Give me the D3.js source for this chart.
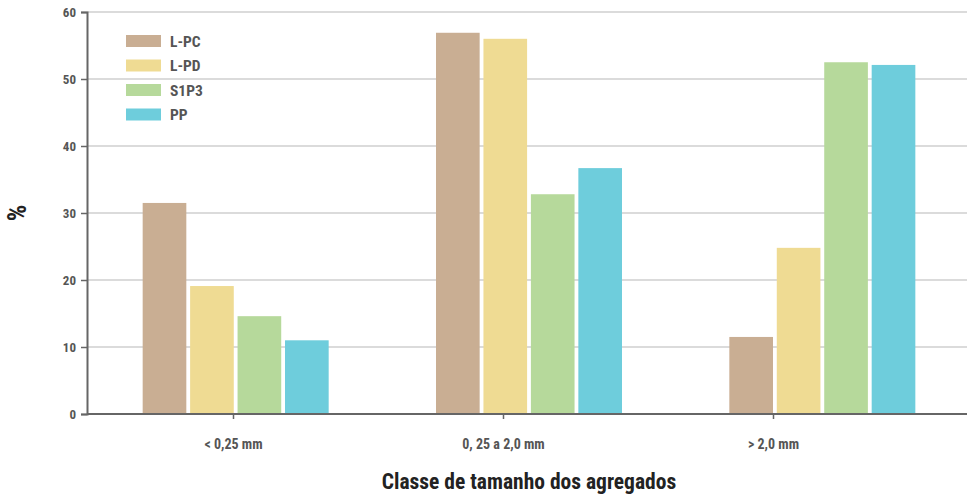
<!DOCTYPE html>
<html>
<head>
<meta charset="utf-8">
<script src="https://cdn.jsdelivr.net/npm/d3@7"></script>
<style>
  body { margin: 0; background: #fff; }
  text { font-family: "Liberation Sans Narrow", "Roboto Condensed", "DejaVu Sans Condensed", sans-serif; }
</style>
</head>
<body>
<svg id="chart" width="967" height="497"></svg>
<script>
var categories = ["< 0,25 mm", "0, 25 a 2,0 mm", "> 2,0 mm"];
var series = ["L-PC", "L-PD", "S1P3", "PP"];
var colors = ["#c9ae93", "#efdb93", "#b6d99b", "#6ecddc"];
var valLPC  = [31.5, 56.9, 11.5];
var valLPD  = [19.1, 56.0, 24.8];
var valS1P3 = [14.6, 32.8, 52.5];
var valPP   = [11.0, 36.7, 52.1];
var yTicks = [0, 10, 20, 30, 40, 50, 60];

var values = [valLPC, valLPD, valS1P3, valPP];
var data = categories.map(function(c, i){
  return { cat: c, vals: series.map(function(s, j){ return { key: s, value: values[j][i] }; }) };
});

var margin = {left: 87, right: 0, top: 12, bottom: 83};
var width = 967 - margin.left - margin.right;
var height = 497 - margin.top - margin.bottom;

var svg = d3.select("#chart");
var g = svg.append("g").attr("transform", "translate(" + margin.left + "," + margin.top + ")");

var y = d3.scaleLinear().domain([0, 60]).range([height, 0]);
var x0 = d3.scaleBand().domain(categories).range([2, width + 2]);
var x1 = d3.scaleBand().domain(series).range([0, 186]).paddingInner(0.08);
var xLabel = d3.scalePoint().domain(categories).range([146, 686]);
var color = d3.scaleOrdinal().domain(series).range(colors);

// gridlines
g.append("g").selectAll("line")
  .data(yTicks.filter(function(d){ return d > 0; }))
  .enter().append("line")
    .attr("x1", 0).attr("x2", width)
    .attr("y1", function(d){ return y(d); })
    .attr("y2", function(d){ return y(d); })
    .attr("stroke", "#cfcfcf")
    .attr("stroke-width", 1.5);

// bars
g.append("g").selectAll("g")
  .data(data)
  .enter().append("g")
    .attr("transform", function(d){ return "translate(" + (x0(d.cat) + x0.bandwidth()/2 - 93) + ",0)"; })
  .selectAll("rect")
  .data(function(d){ return d.vals; })
  .enter().append("rect")
    .attr("x", function(d){ return x1(d.key); })
    .attr("width", x1.bandwidth())
    .attr("y", function(d){ return y(d.value); })
    .attr("height", function(d){ return height - y(d.value); })
    .attr("fill", function(d){ return color(d.key); });

// y axis
var yAxis = g.append("g")
  .call(d3.axisLeft(y).tickValues(yTicks).tickSize(6).tickPadding(5));
yAxis.select(".domain").attr("stroke", "#666").attr("stroke-width", 2);
yAxis.selectAll(".tick line").attr("stroke", "#666").attr("stroke-width", 1.5);
yAxis.selectAll("text").attr("fill", "#555").style("font-size", "13px").style("font-weight", "bold");

// x axis
var xAxis = g.append("g")
  .attr("transform", "translate(0," + height + ")")
  .call(d3.axisBottom(xLabel).tickSize(5).tickPadding(20));
xAxis.select(".domain").attr("stroke", "#666").attr("stroke-width", 2).attr("d", "M0,0H" + width);
xAxis.selectAll(".tick line").attr("stroke", "#666").attr("stroke-width", 1.5);
xAxis.selectAll("text").attr("fill", "#555").style("font-size", "14px").style("font-weight", "bold");

// axis titles
svg.append("text")
  .attr("transform", "translate(26," + (margin.top + height/2) + ") rotate(-90)")
  .attr("text-anchor", "middle")
  .style("font-size", "26px").style("font-weight", "bold").attr("fill", "#222")
  .text("%");

svg.append("text")
  .attr("x", 529).attr("y", 489)
  .attr("text-anchor", "middle")
  .style("font-size", "21.5px").style("font-weight", "bold").attr("fill", "#222")
  .text("Classe de tamanho dos agregados");

// legend
var legend = svg.append("g").attr("transform", "translate(126,35)");
var items = legend.selectAll("g").data(series).enter().append("g")
  .attr("transform", function(d, i){ return "translate(0," + (i * 24.5) + ")"; });
items.append("rect").attr("width", 35).attr("height", 12).attr("fill", function(d){ return color(d); });
items.append("text").attr("x", 44).attr("y", 11.5)
  .style("font-size", "15.5px").style("font-weight", "bold").attr("fill", "#555")
  .text(function(d){ return d; });
</script>
</body>
</html>
